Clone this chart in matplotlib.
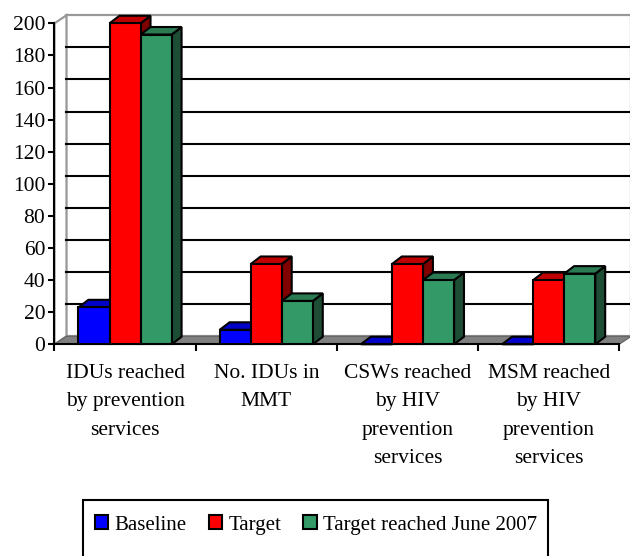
import matplotlib
matplotlib.use('Agg')
import matplotlib.pyplot as plt
from matplotlib.patches import Polygon, Rectangle, Patch

plt.rcParams['font.family'] = ['Liberation Serif', 'DejaVu Serif']

# Programme indicators
categories = ['IDUs reached\nby prevention\nservices',
              'No. IDUs in\nMMT',
              'CSWs reached\nby HIV\nprevention\nservices',
              'MSM reached\nby HIV\nprevention\nservices']
series_names = ['Baseline', 'Target', 'Target reached June 2007']
baseline = [23, 9, 0, 0]
target = [200, 50, 50, 40]
reached = [193, 27, 40, 44]
yticks = [0, 20, 40, 60, 80, 100, 120, 140, 160, 180, 200]

# face colours: front, top, side
front_cols = ['#0000ff', '#ff0000', '#339966']
top_cols = ['#0000c8', '#c00000', '#2a7a52']
side_cols = ['#000080', '#800000', '#1e4d36']

# 3D look: depth of the walls and of the bars (data units)
wall_dx, wall_dy = 0.085, 5.0
bar_dx, bar_dy = 0.07, 4.7
bar_w, bar_off = 0.22, 0.17

fig = plt.figure(figsize=(6.3, 5.56), dpi=100)
ax = fig.add_axes([0.0865, 0.3808, 0.9167, 0.5946])
ax.set_xlim(0, 4.09)
ax.set_ylim(0, 206)

ncat = len(categories)
ymax = yticks[-1]

# back wall and left wall
ax.add_patch(Polygon([(wall_dx, wall_dy), (ncat + wall_dx, wall_dy),
                      (ncat + wall_dx, ymax + wall_dy), (wall_dx, ymax + wall_dy)],
                     closed=True, facecolor='white', edgecolor='#999999',
                     lw=1.6, zorder=0.5, clip_on=False))
ax.add_patch(Polygon([(0, 0), (wall_dx, wall_dy), (wall_dx, ymax + wall_dy), (0, ymax)],
                     closed=True, facecolor='white', edgecolor='#999999',
                     lw=1.6, zorder=0.5, clip_on=False))
for v in yticks[1:-1]:
    ax.plot([wall_dx, ncat + wall_dx], [v + wall_dy, v + wall_dy],
            color='black', lw=1.5, zorder=0.6, clip_on=False)

# floor
ax.add_patch(Polygon([(0, 0), (ncat, 0), (ncat + wall_dx, wall_dy), (wall_dx, wall_dy)],
                     closed=True, facecolor='#808080', edgecolor='#606060',
                     lw=0.8, zorder=0.7, clip_on=False))

# bars, drawn left to right so each front hides the previous side face
z = 3
for i in range(ncat):
    for j, vals in enumerate([baseline, target, reached]):
        h = vals[i]
        x0 = i + bar_off + j * bar_w
        x1 = x0 + bar_w
        side = Polygon([(x1, 0), (x1 + bar_dx, bar_dy), (x1 + bar_dx, h + bar_dy), (x1, h)],
                       closed=True, facecolor=side_cols[j], edgecolor='black',
                       lw=1.5, zorder=z, clip_on=False)
        top = Polygon([(x0, h), (x1, h), (x1 + bar_dx, h + bar_dy), (x0 + bar_dx, h + bar_dy)],
                      closed=True, facecolor=top_cols[j], edgecolor='black',
                      lw=1.5, zorder=z, clip_on=False)
        front = Rectangle((x0, 0), bar_w, h, facecolor=front_cols[j],
                          edgecolor='black', lw=1.5, zorder=z, clip_on=False)
        ax.add_patch(side)
        ax.add_patch(top)
        ax.add_patch(front)
        z += 0.01

# axes lines and ticks
for s in ['top', 'right']:
    ax.spines[s].set_visible(False)
ax.spines['left'].set_bounds(0, ymax)
ax.spines['bottom'].set_bounds(0, ncat)
for s in ['left', 'bottom']:
    ax.spines[s].set_linewidth(1.5)
    ax.spines[s].set_zorder(2.8)

ax.set_yticks(yticks)
ax.set_yticklabels([str(v) for v in yticks])
ax.tick_params(axis='y', direction='out', length=4.3, width=1.5, pad=2.4,
               labelsize=15.5, colors='black')

ax.set_xticks(range(ncat + 1))
ax.set_xticklabels([])
ax.set_xticks([i + 0.5 for i in range(ncat)], minor=True)
ax.set_xticklabels(categories, minor=True, fontsize=15.5, linespacing=1.68)
ax.tick_params(axis='x', which='major', direction='out', length=5.2, width=1.5)
ax.tick_params(axis='x', which='minor', length=0, pad=14)

# legend
handles = [Patch(facecolor=c, edgecolor='black', lw=1.5) for c in front_cols]
fig.legend(handles, series_names, loc='center', bbox_to_anchor=(0.5016, 0.0558),
           ncol=3, frameon=False, fontsize=15, handlelength=0.65,
           handleheight=0.65, handletextpad=0.3, columnspacing=1.05)
fig.patches.append(Rectangle((0.1317, -0.05), 0.738, 0.1507, transform=fig.transFigure,
                             facecolor='none', edgecolor='black', lw=1.5))

fig.savefig('out.png', dpi=100)
